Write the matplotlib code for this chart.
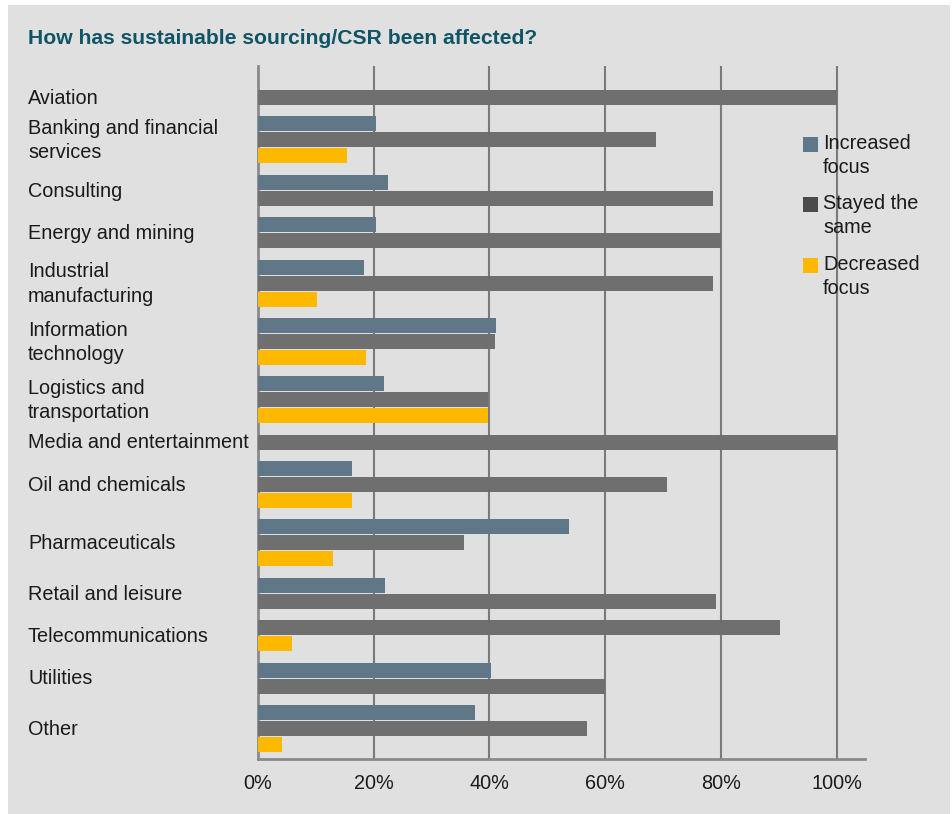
import matplotlib
matplotlib.use("Agg")
import matplotlib.pyplot as plt
from matplotlib import patches
from matplotlib.transforms import blended_transform_factory

categories = [
    "Aviation",
    "Banking and financial\nservices",
    "Consulting",
    "Energy and mining",
    "Industrial\nmanufacturing",
    "Information\ntechnology",
    "Logistics and\ntransportation",
    "Media and entertainment",
    "Oil and chemicals",
    "Pharmaceuticals",
    "Retail and leisure",
    "Telecommunications",
    "Utilities",
    "Other",
]

# percentages, 0 = no bar for that series
increased = [0, 20.4, 22.5, 20.4, 18.3, 41.2, 21.8, 0, 16.3, 53.8, 22.0, 0, 40.2, 37.5]
stayed = [100, 68.7, 78.6, 80.0, 78.6, 40.9, 39.7, 100, 70.6, 35.6, 79.1, 90.2, 60.0, 56.8]
decreased = [0, 15.4, 0, 0, 10.2, 18.6, 39.7, 0, 16.3, 12.9, 0, 5.8, 0, 4.1]

series_names = ["Increased\nfocus", "Stayed the\nsame", "Decreased\nfocus"]
bar_colors = ["#5f7786", "#6f6f6f", "#fdb900"]
legend_colors = ["#5f7786", "#4b4b4b", "#fdb900"]
ticks = [0, 20, 40, 60, 80, 100]

W, H, DPI = 952, 814, 100
BG = "#dfe0df"
TXT = "#1a1a1a"
FONT = "Liberation Sans"
FS = 14.3
LS = 1.36

fig = plt.figure(figsize=(W / DPI, H / DPI), dpi=DPI, facecolor="white")
fig.patches.append(patches.Rectangle((8 / W, 0), 942 / W, 809 / H,
                                     transform=fig.transFigure, facecolor=BG,
                                     edgecolor="none", zorder=-10))

# axes box in pixels: x 258..865, y 66..759
ax = fig.add_axes([258 / W, 1 - 759 / H, 607 / W, 693 / H])
ax.set_facecolor("none")

# layout: one slot per present bar, a gap between industries
slot, gap, bar_h = 1.0, 0.65, 0.94
pos = 0.0
centers = []
for i in range(len(categories)):
    ys = []
    for s, vals in enumerate([increased, stayed, decreased]):
        if vals[i] > 0:
            ax.barh(pos, vals[i], height=bar_h, color=bar_colors[s], zorder=3,
                    linewidth=0)
            ys.append(pos)
            pos += slot
    centers.append(sum(ys) / len(ys))
    pos += gap

first, last = 0.0, pos - slot - gap
ax.set_ylim(last + (759 - 744.5) / 16, first - (97.5 - 66) / 16)
ax.set_xlim(0, 104.9)

for t in ticks[1:]:
    ax.axvline(t, color="#7a7a7a", lw=1.5, zorder=2)
for sp in ["top", "right"]:
    ax.spines[sp].set_visible(False)
for sp in ["left", "bottom"]:
    ax.spines[sp].set_color("#8a8a8a")
    ax.spines[sp].set_linewidth(2)

ax.set_xticks(ticks)
ax.set_xticklabels([f"{t}%" for t in ticks], fontsize=FS, color=TXT,
                   family=FONT)
ax.tick_params(axis="x", length=0, pad=11)
ax.set_yticks([])

# category labels, left aligned at x=28 px
lab_tr = blended_transform_factory(fig.transFigure, ax.transData)
for c, y in zip(categories, centers):
    ax.text(28 / W, y + 0.05, c, transform=lab_tr, ha="left", va="center",
            fontsize=FS, color=TXT, family=FONT, linespacing=LS,
            clip_on=False)

fig.text(28 / W, 1 - 38 / H, "How has sustainable sourcing/CSR been affected?",
         ha="left", va="center", fontsize=15.2, fontweight="bold",
         color="#0f5566", family=FONT)

# legend
leg_y = [144, 204, 265]
for name, col, y in zip(series_names, legend_colors, leg_y):
    fig.patches.append(patches.Rectangle((803 / W, 1 - (y + 8) / H), 15 / W, 15 / H,
                                         transform=fig.transFigure,
                                         facecolor=col, edgecolor="none"))
    fig.text(823 / W, 1 - (y - 10) / H, name, ha="left", va="top",
             fontsize=FS, color=TXT, family=FONT, linespacing=LS)

fig.savefig("out.png", dpi=DPI, facecolor="white")
